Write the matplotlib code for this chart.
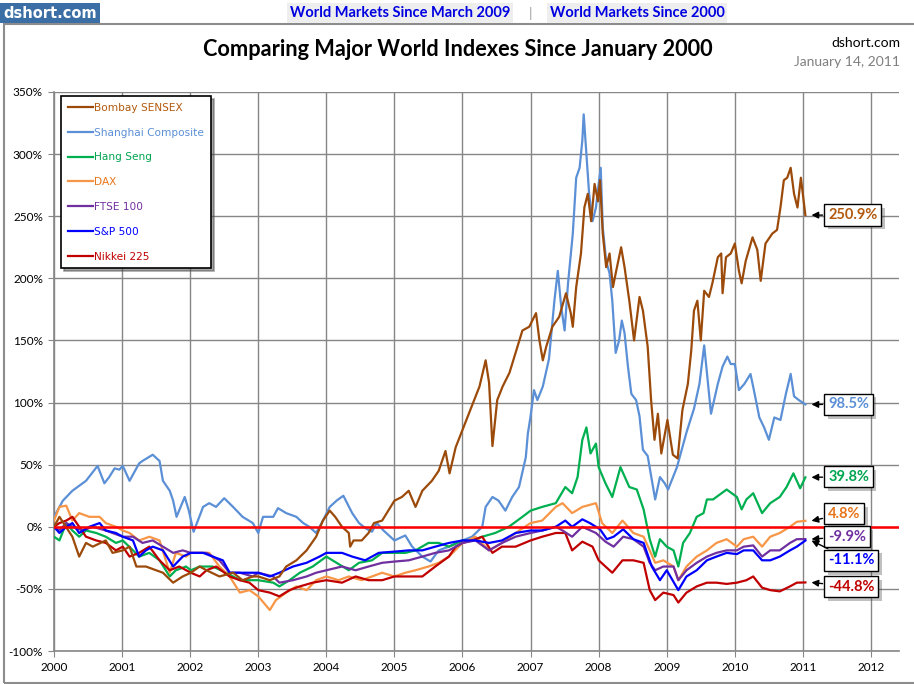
import matplotlib
matplotlib.use('Agg')
import matplotlib.pyplot as plt
import matplotlib.patheffects as pe
from matplotlib.patches import Rectangle

plt.rcParams['font.family'] = ['Lato', 'DejaVu Sans']

# --- data (decimal year, % change since Jan 2000) ---
sensex_t = [2000.00, 2000.08, 2000.27, 2000.37, 2000.47, 2000.57, 2000.76, 2000.86, 2001.01, 2001.11,
            2001.21, 2001.35, 2001.50, 2001.60, 2001.75, 2001.89, 2002.01, 2002.14, 2002.24, 2002.43,
            2002.63, 2002.77, 2002.92, 2003.00, 2003.17, 2003.31, 2003.41, 2003.56, 2003.71, 2003.85,
            2003.95, 2004.05, 2004.13, 2004.23, 2004.33, 2004.35, 2004.40, 2004.52, 2004.62, 2004.70,
            2004.82, 2005.00, 2005.11, 2005.21, 2005.31, 2005.41, 2005.55, 2005.65, 2005.75, 2005.81,
            2005.90, 2006.00, 2006.15, 2006.25, 2006.34, 2006.39, 2006.44, 2006.51, 2006.59, 2006.69,
            2006.78, 2006.88, 2006.98, 2007.08, 2007.13, 2007.18, 2007.23, 2007.32, 2007.42, 2007.52,
            2007.59, 2007.62, 2007.67, 2007.74, 2007.79, 2007.84, 2007.89, 2007.94, 2007.99, 2008.02,
            2008.06, 2008.11, 2008.16, 2008.21, 2008.25, 2008.33, 2008.38, 2008.45, 2008.52, 2008.60,
            2008.65, 2008.72, 2008.77, 2008.82, 2008.87, 2008.92, 2009.01, 2009.09, 2009.16, 2009.23,
            2009.31, 2009.36, 2009.40, 2009.45, 2009.50, 2009.55, 2009.62, 2009.67, 2009.75, 2009.80,
            2009.82, 2009.87, 2009.94, 2010.00, 2010.06, 2010.10, 2010.16, 2010.26, 2010.33, 2010.38,
            2010.45, 2010.55, 2010.62, 2010.67, 2010.72, 2010.77, 2010.82, 2010.87, 2010.92, 2010.97,
            2011.036]
sensex_v = [0, 8, -8, -24, -13, -16, -11, -21, -19, -16,
            -32, -32, -35, -37, -45, -40, -37, -32, -35, -40,
            -37, -43, -40, -40, -43, -40, -32, -27, -19, -8,
            5, 13, 8, 0, -5, -16, -11, -11, -5, 3,
            5, 21, 24, 29, 16, 29, 37, 45, 61, 43,
            64, 78, 99, 113, 134, 116, 65, 102, 113, 124,
            140, 158, 161, 172, 150, 134, 145, 161, 169, 188,
            172, 161, 193, 220, 257, 268, 246, 276, 262, 279,
            236, 209, 220, 193, 204, 225, 209, 182, 150, 185,
            174, 145, 102, 70, 91, 59, 86, 58, 55, 94,
            115, 142, 174, 182, 150, 190, 185, 196, 217, 220,
            188, 217, 220, 228, 206, 196, 214, 233, 223, 198,
            228, 236, 239, 257, 279, 281, 289, 268, 257, 281,
            250.9]

shanghai_t = [2000.00, 2000.13, 2000.27, 2000.47, 2000.64, 2000.74, 2000.81, 2000.89, 2000.96, 2001.01,
              2001.11, 2001.25, 2001.30, 2001.45, 2001.55, 2001.60, 2001.70, 2001.75, 2001.80, 2001.92,
              2001.98, 2002.05, 2002.19, 2002.28, 2002.38, 2002.50, 2002.63, 2002.77, 2002.92, 2003.00,
              2003.07, 2003.22, 2003.29, 2003.41, 2003.56, 2003.66, 2003.75, 2003.85, 2003.95, 2004.05,
              2004.15, 2004.25, 2004.38, 2004.48, 2004.57, 2004.67, 2004.74, 2004.84, 2005.00, 2005.16,
              2005.26, 2005.41, 2005.53, 2005.65, 2005.80, 2006.00, 2006.14, 2006.29, 2006.34, 2006.44,
              2006.53, 2006.63, 2006.73, 2006.83, 2006.93, 2006.96, 2007.00, 2007.05, 2007.10, 2007.18,
              2007.27, 2007.35, 2007.40, 2007.45, 2007.50, 2007.55, 2007.62, 2007.67, 2007.72, 2007.76,
              2007.78, 2007.81, 2007.86, 2007.91, 2007.96, 2008.00, 2008.03, 2008.06, 2008.11, 2008.16,
              2008.20, 2008.25, 2008.30, 2008.34, 2008.38, 2008.43, 2008.48, 2008.55, 2008.60, 2008.65,
              2008.72, 2008.79, 2008.83, 2008.90, 2008.97, 2009.02, 2009.15, 2009.29, 2009.40, 2009.48,
              2009.55, 2009.65, 2009.75, 2009.82, 2009.89, 2009.94, 2010.00, 2010.06, 2010.14, 2010.23,
              2010.28, 2010.36, 2010.43, 2010.50, 2010.58, 2010.67, 2010.75, 2010.82, 2010.87, 2010.94,
              2011.036]
shanghai_v = [8, 21, 29, 37, 49, 35, 40, 47, 46, 49,
              37, 51, 53, 58, 53, 37, 29, 21, 8, 24,
              13, -4, 16, 19, 16, 23, 16, 8, 3, -5,
              8, 8, 15, 11, 8, 3, 0, -5, 5, 16,
              21, 25, 11, 3, -1, -4, 3, -3, -11, -7,
              -16, -24, -28, -19, -16, -11, -8, 0, 16, 24,
              21, 13, 24, 32, 56, 75, 89, 110, 102, 113,
              135, 182, 206, 177, 158, 196, 236, 281, 289, 311,
              332, 308, 268, 246, 257, 276, 289, 241, 214, 204,
              182, 140, 150, 166, 156, 129, 107, 102, 89, 62,
              57, 35, 22, 40, 35, 30, 48, 76, 95, 115,
              146, 91, 115, 129, 137, 131, 131, 110, 115, 123,
              110, 88, 80, 70, 88, 86, 107, 123, 105, 102,
              98.5]

hangseng_t = [2000.00, 2000.08, 2000.18, 2000.27, 2000.37, 2000.47, 2000.62, 2000.76, 2000.91, 2001.01,
              2001.16, 2001.25, 2001.40, 2001.55, 2001.70, 2001.79, 2001.94, 2002.01, 2002.14, 2002.33,
              2002.53, 2002.73, 2002.87, 2003.00, 2003.22, 2003.31, 2003.46, 2003.61, 2003.80, 2004.00,
              2004.18, 2004.33, 2004.48, 2004.67, 2004.82, 2005.00, 2005.16, 2005.31, 2005.50, 2005.65,
              2005.80, 2006.00, 2006.14, 2006.29, 2006.48, 2006.68, 2006.88, 2007.00, 2007.17, 2007.37,
              2007.51, 2007.61, 2007.69, 2007.76, 2007.82, 2007.88, 2007.96, 2008.00, 2008.10, 2008.20,
              2008.32, 2008.45, 2008.56, 2008.66, 2008.75, 2008.83, 2008.90, 2009.00, 2009.10, 2009.17,
              2009.24, 2009.34, 2009.44, 2009.54, 2009.59, 2009.68, 2009.88, 2010.03, 2010.10, 2010.17,
              2010.27, 2010.40, 2010.52, 2010.66, 2010.76, 2010.86, 2010.96, 2011.036]
hangseng_v = [-8, -11, 3, -3, -8, -3, -5, -8, -13, -11,
              -19, -24, -21, -27, -40, -35, -32, -35, -32, -32,
              -37, -43, -43, -43, -45, -48, -43, -37, -32, -24,
              -30, -35, -29, -27, -21, -21, -21, -19, -13, -13,
              -16, -11, -11, -8, -5, 0, 8, 13, 16, 19,
              32, 27, 40, 70, 80, 59, 67, 48, 35, 24,
              48, 32, 30, 14, -10, -24, -10, -16, -19, -32,
              -13, -5, 8, 11, 22, 22, 30, 24, 14, 22,
              27, 11, 19, 24, 32, 43, 31, 39.8]

dax_t = [2000.00, 2000.08, 2000.18, 2000.27, 2000.37, 2000.52, 2000.67, 2000.76, 2000.91, 2001.01,
         2001.11, 2001.25, 2001.40, 2001.55, 2001.70, 2001.79, 2001.94, 2002.01, 2002.14, 2002.28,
         2002.43, 2002.58, 2002.73, 2002.87, 2003.00, 2003.17, 2003.26, 2003.41, 2003.56, 2003.71,
         2003.85, 2004.00, 2004.18, 2004.33, 2004.52, 2004.67, 2004.82, 2005.00, 2005.16, 2005.31,
         2005.50, 2005.65, 2005.80, 2006.00, 2006.19, 2006.39, 2006.58, 2006.78, 2007.00, 2007.17,
         2007.37, 2007.47, 2007.61, 2007.76, 2007.96, 2008.05, 2008.20, 2008.35, 2008.51, 2008.66,
         2008.75, 2008.83, 2008.95, 2009.10, 2009.17, 2009.29, 2009.44, 2009.59, 2009.73, 2009.88,
         2010.03, 2010.13, 2010.27, 2010.40, 2010.52, 2010.66, 2010.81, 2010.91, 2011.036]
dax_v = [5, 16, 17, 5, 11, 8, 8, 3, 0, -3,
         -5, -11, -8, -11, -37, -21, -24, -21, -21, -21,
         -32, -40, -53, -51, -56, -67, -59, -53, -48, -51,
         -43, -40, -43, -40, -43, -40, -37, -40, -37, -35,
         -32, -29, -24, -13, -8, -19, -13, -5, 3, 5,
         16, 19, 11, 16, 19, 3, -5, 5, -5, -8,
         -19, -29, -27, -32, -43, -32, -24, -19, -13, -10,
         -16, -10, -8, -16, -8, -5, 0, 4, 4.8]

ftse_t = [2000.00, 2000.08, 2000.18, 2000.27, 2000.42, 2000.57, 2000.76, 2001.01, 2001.16, 2001.30,
          2001.45, 2001.60, 2001.75, 2001.89, 2002.01, 2002.24, 2002.43, 2002.58, 2002.73, 2002.92,
          2003.00, 2003.22, 2003.31, 2003.51, 2003.71, 2003.85, 2004.00, 2004.23, 2004.43, 2004.62,
          2004.82, 2005.00, 2005.21, 2005.41, 2005.60, 2005.80, 2006.00, 2006.19, 2006.39, 2006.58,
          2006.78, 2007.00, 2007.17, 2007.37, 2007.47, 2007.61, 2007.76, 2007.96, 2008.10, 2008.22,
          2008.36, 2008.51, 2008.66, 2008.75, 2008.83, 2008.95, 2009.10, 2009.17, 2009.29, 2009.44,
          2009.59, 2009.73, 2009.88, 2010.03, 2010.13, 2010.27, 2010.40, 2010.52, 2010.66, 2010.81,
          2010.91, 2011.036]
ftse_v = [0, -3, 3, 0, -3, 0, -3, -8, -8, -13,
          -11, -16, -21, -19, -21, -21, -27, -37, -37, -40,
          -37, -40, -45, -43, -40, -37, -35, -32, -35, -32,
          -29, -28, -27, -24, -21, -19, -13, -11, -19, -13,
          -8, -5, -3, 0, -3, -8, 0, -5, -12, -16,
          -8, -10, -16, -29, -35, -32, -32, -43, -35, -29,
          -24, -21, -19, -19, -16, -15, -24, -19, -19, -13,
          -10, -9.9]

sp500_t = [2000.00, 2000.08, 2000.18, 2000.27, 2000.37, 2000.52, 2000.67, 2000.76, 2000.91, 2001.01,
           2001.16, 2001.25, 2001.35, 2001.45, 2001.60, 2001.75, 2001.89, 2002.01, 2002.19, 2002.33,
           2002.48, 2002.58, 2002.73, 2002.87, 2003.00, 2003.17, 2003.31, 2003.51, 2003.71, 2003.90,
           2004.00, 2004.23, 2004.38, 2004.57, 2004.77, 2005.00, 2005.21, 2005.41, 2005.60, 2005.80,
           2006.00, 2006.19, 2006.39, 2006.58, 2006.78, 2007.00, 2007.17, 2007.37, 2007.51, 2007.61,
           2007.76, 2007.87, 2008.02, 2008.12, 2008.22, 2008.36, 2008.51, 2008.66, 2008.78, 2008.90,
           2009.00, 2009.17, 2009.29, 2009.44, 2009.59, 2009.73, 2009.88, 2010.03, 2010.13, 2010.27,
           2010.40, 2010.52, 2010.66, 2010.81, 2010.91, 2011.036]
sp500_v = [0, -5, 0, 3, -5, 0, 3, -3, -5, -8,
           -11, -24, -19, -16, -19, -32, -24, -21, -21, -24,
           -27, -37, -37, -37, -37, -40, -37, -32, -29, -24,
           -21, -21, -24, -27, -21, -20, -19, -19, -16, -13,
           -11, -11, -13, -11, -5, -3, -3, 0, 5, 0,
           6, 3, -2, -10, -8, -2, -10, -13, -32, -43,
           -35, -51, -40, -35, -27, -24, -21, -22, -19, -19,
           -27, -27, -24, -19, -16, -11.1]

nikkei_t = [2000.00, 2000.08, 2000.18, 2000.27, 2000.37, 2000.47, 2000.62, 2000.76, 2000.91, 2001.01,
            2001.11, 2001.25, 2001.40, 2001.55, 2001.70, 2001.84, 2002.01, 2002.14, 2002.24, 2002.38,
            2002.58, 2002.73, 2002.87, 2003.00, 2003.17, 2003.31, 2003.46, 2003.61, 2003.80, 2004.00,
            2004.23, 2004.43, 2004.62, 2004.82, 2005.00, 2005.21, 2005.41, 2005.60, 2005.80, 2005.90,
            2006.00, 2006.14, 2006.29, 2006.44, 2006.58, 2006.78, 2007.00, 2007.17, 2007.37, 2007.51,
            2007.61, 2007.76, 2007.91, 2008.00, 2008.10, 2008.20, 2008.35, 2008.51, 2008.66, 2008.75,
            2008.83, 2008.95, 2009.10, 2009.17, 2009.29, 2009.44, 2009.59, 2009.73, 2009.88, 2010.03,
            2010.17, 2010.27, 2010.40, 2010.52, 2010.66, 2010.81, 2010.91, 2011.036]
nikkei_v = [0, 3, 5, 8, 0, -8, -11, -13, -19, -16,
            -24, -21, -16, -27, -35, -32, -37, -40, -35, -32,
            -40, -43, -45, -51, -53, -56, -51, -48, -45, -43,
            -45, -40, -43, -43, -40, -40, -40, -32, -24, -16,
            -13, -11, -8, -21, -16, -16, -11, -8, -5, -5,
            -19, -12, -16, -27, -32, -37, -27, -27, -29, -51,
            -59, -53, -55, -61, -53, -48, -45, -45, -46, -45,
            -43, -40, -49, -51, -52, -48, -45, -44.8]

names = ['Bombay SENSEX', 'Shanghai Composite', 'Hang Seng', 'DAX', 'FTSE 100', 'S&P 500', 'Nikkei 225']
series_t = [sensex_t, shanghai_t, hangseng_t, dax_t, ftse_t, sp500_t, nikkei_t]
series_v = [sensex_v, shanghai_v, hangseng_v, dax_v, ftse_v, sp500_v, nikkei_v]
end_labels = ['250.9%', '98.5%', '39.8%', '4.8%', '-9.9%', '-11.1%', '-44.8%']

line_colors = ['#9C4A0A', '#5B8FD6', '#00B050', '#F79646', '#7030A0', '#0000FF', '#C00000']
text_colors = ['#B35A0E', '#5B8FD6', '#00A550', '#E8751A', '#7030A0', '#0000FF', '#C00000']
label_offsets = [0, 0, 0.5, 5.7, 1.8, -16, -3.5]   # label box shift vs. line end (in %)

fig = plt.figure(figsize=(9.14, 6.84), dpi=100)
ax = fig.add_axes([54 / 914, 1 - 651 / 684, (899 - 54) / 914, (651 - 92) / 684])

# header bits
fig.patches.append(Rectangle((4 / 914, 1 - 683 / 684), 920 / 914, 659 / 684, transform=fig.transFigure,
                             fill=False, edgecolor='#8C8C8C', lw=1.5))
fig.text(50 / 914, 1 - 13 / 684, 'dshort.com', color='white', fontsize=10.5, fontweight='bold',
         ha='center', va='center', family=['DejaVu Sans'],
         bbox=dict(boxstyle='square,pad=0.2', facecolor='#3A6EA5', edgecolor='none'))
fig.text(400 / 914, 1 - 13 / 684, 'World Markets Since March 2009', color='#0000E0', fontsize=10.5,
         fontweight='bold', ha='center', va='center',
         bbox=dict(boxstyle='square,pad=0.2', facecolor='#EEEEEE', edgecolor='none'))
fig.text(531 / 914, 1 - 13 / 684, '|', color='#A0A0A0', fontsize=10, ha='center', va='center')
fig.text(637 / 914, 1 - 13 / 684, 'World Markets Since 2000', color='#0000E0', fontsize=10.5,
         fontweight='bold', ha='center', va='center',
         bbox=dict(boxstyle='square,pad=0.2', facecolor='#EEEEEE', edgecolor='none'))
fig.text(458 / 914, 1 - 50 / 684, 'Comparing Major World Indexes Since January 2000', fontsize=15.7,
         fontweight='bold', ha='center', va='center')
fig.text(900 / 914, 1 - 43 / 684, 'dshort.com', fontsize=10, ha='right', va='center')
fig.text(900 / 914, 1 - 62 / 684, 'January 14, 2011', fontsize=10, color='#7F7F7F', ha='right', va='center')

# lines (S&P drawn late so it sits over FTSE like in the original)
draw_order = [1, 2, 3, 6, 4, 5, 0]
handles = {}
for i in draw_order:
    h, = ax.plot(series_t[i], series_v[i], color=line_colors[i], lw=1.6, label=names[i], zorder=3)
    handles[i] = h

ax.axhline(0, color='#FF0000', lw=1.8, zorder=4)

ax.set_xlim(2000, 2012 + 28 / 68.08)
ax.set_ylim(-100, 350)
ax.set_xticks(range(2000, 2013))
ax.set_xticklabels([str(y) for y in range(2000, 2013)], fontsize=8.5)
ax.set_yticks(range(-100, 351, 50))
ax.set_yticklabels(['%d%%' % v for v in range(-100, 351, 50)], fontsize=8.5)
ax.grid(True, color='#868686', lw=1, zorder=0)
ax.set_axisbelow(True)
for s in ['top', 'right']:
    ax.spines[s].set_visible(False)
for s in ['left', 'bottom']:
    ax.spines[s].set_color('#868686')
    ax.spines[s].set_linewidth(1.2)
ax.tick_params(length=4, color='#868686', pad=4)

leg = ax.legend([handles[i] for i in range(7)], names, loc='upper left', bbox_to_anchor=(7 / 845, 1 - 4 / 559),
                frameon=True, fancybox=False, shadow=True, framealpha=1, edgecolor='black',
                handlelength=2.4, handletextpad=0.1, labelspacing=1.4, borderpad=0.65, borderaxespad=0,
                prop={'family': ['DejaVu Sans'], 'size': 7.6})
for txt, c in zip(leg.get_texts(), text_colors):
    txt.set_color(c)
leg.get_frame().set_linewidth(1.2)
leg.set_zorder(6)

# end-value callouts
tx = 2011.37
for i in range(7):
    x_end = series_t[i][-1]
    y_end = series_v[i][-1]
    ann = ax.annotate(end_labels[i], xy=(x_end + 0.09, y_end), xytext=(tx, y_end + label_offsets[i]),
                      fontsize=10.5, fontweight='bold', color=text_colors[i], ha='left', va='center', zorder=6,
                      bbox=dict(boxstyle='square,pad=0.25', facecolor='white', edgecolor='black', lw=1),
                      arrowprops=dict(arrowstyle='-|>', color='black', lw=1, mutation_scale=10,
                                      shrinkA=1, shrinkB=0))
    ann.get_bbox_patch().set_path_effects([pe.SimplePatchShadow(offset=(2.5, -2.5), alpha=0.35), pe.Normal()])

fig.savefig('out.png', dpi=100)
